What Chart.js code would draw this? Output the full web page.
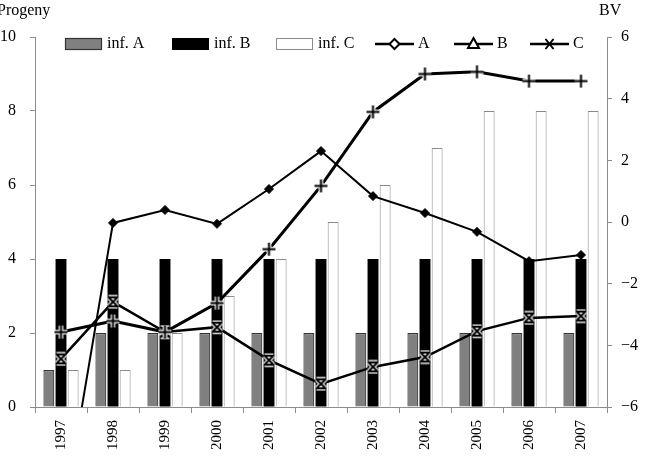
<!DOCTYPE html>
<html>
<head>
<meta charset="utf-8">
<script src="https://cdn.jsdelivr.net/npm/chart.js@4.4.0/dist/chart.umd.min.js"></script>
<style>
  html, body { margin: 0; padding: 0; background: #fff; }
</style>
</head>
<body>
<canvas id="progenyChart" width="646" height="462"></canvas>
<script>
// Data
const years = ['1997', '1998', '1999', '2000', '2001', '2002', '2003', '2004', '2005', '2006', '2007'];

// bars, left axis (Progeny)
const infA = [1, 2, 2, 2, 2, 2, 2, 2, 2, 2, 2];
const infB = [4, 4, 4, 4, 4, 4, 4, 4, 4, 4, 4];
const infC = [1, 1, 2, 3, 4, 5, 6, 7, 8, 8, 8];

// lines, right axis (BV)
const bvA = [-10, -0.03, 0.39, -0.06, 1.07, 2.30, 0.84, 0.29, -0.32, -1.27, -1.07];
const bvB = [-3.57, -3.21, -3.57, -2.63, -0.88, 1.17, 3.57, 4.80, 4.87, 4.57, 4.57];
const bvC = [-4.44, -2.59, -3.57, -3.41, -4.48, -5.25, -4.70, -4.38, -3.54, -3.11, -3.05];

const progenyTicks = [0, 2, 4, 6, 8, 10];
const bvTicks = [-6, -4, -2, 0, 2, 4, 6];

const FONT = '"Liberation Serif", "DejaVu Serif", serif';
const AXIS_CLR = '#8c8c8c';

// marker images with a white halo so they read on top of the black bars
function makeMarker(size, path) {
  const c = document.createElement('canvas');
  c.width = size;
  c.height = size;
  const g = c.getContext('2d');
  g.lineCap = 'butt';
  g.strokeStyle = '#fff';
  g.lineWidth = 4.5;
  path(g, size);
  g.stroke();
  g.strokeStyle = '#000';
  g.lineWidth = 2;
  path(g, size);
  g.stroke();
  return c;
}

const plusMarker = makeMarker(17, (g, s) => {
  g.beginPath();
  g.moveTo(s / 2, 2); g.lineTo(s / 2, s - 2);
  g.moveTo(2, s / 2); g.lineTo(s - 2, s / 2);
});

const xMarker = makeMarker(15, (g, s) => {
  const a = 3, b = s - 3;
  g.beginPath();
  g.moveTo(a, a); g.lineTo(b, b);
  g.moveTo(b, a); g.lineTo(a, b);
  g.moveTo(a, a); g.lineTo(b, a);
  g.moveTo(a, b); g.lineTo(b, b);
});

// legend + axis titles, drawn like the original figure
const overlayPlugin = {
  id: 'overlay',
  afterDraw(chart) {
    const ctx = chart.ctx;
    ctx.save();
    ctx.fillStyle = '#000';
    ctx.font = '16px ' + FONT;
    ctx.textBaseline = 'middle';
    ctx.textAlign = 'left';
    ctx.fillText('Progeny', -3, 11);
    ctx.fillText('BV', 599, 11);

    const xs = [65, 172, 276, 375, 454, 530];
    const cy = 44;
    chart.data.datasets.forEach((ds, i) => {
      const x = xs[i];
      ctx.save();
      if (ds.type === 'bar') {
        ctx.fillStyle = ds.backgroundColor;
        ctx.fillRect(x, cy - 6, 37, 12);
        ctx.strokeStyle = ds.borderColor;
        ctx.lineWidth = ds.borderWidth;
        ctx.strokeRect(x + 0.5, cy - 5.5, 36, 11);
        ctx.restore();
        ctx.fillText(ds.label, x + 42, cy);
      } else {
        const w = 39, mx = x + w / 2;
        ctx.strokeStyle = '#000';
        ctx.lineWidth = 2.5;
        ctx.beginPath();
        ctx.moveTo(x, cy); ctx.lineTo(x + w, cy);
        ctx.stroke();
        ctx.lineWidth = 2;
        ctx.fillStyle = '#fff';
        ctx.beginPath();
        if (ds.legendMark === 'diamond') {
          ctx.moveTo(mx, cy - 5); ctx.lineTo(mx + 5, cy); ctx.lineTo(mx, cy + 5); ctx.lineTo(mx - 5, cy); ctx.closePath();
          ctx.fill(); ctx.stroke();
        } else if (ds.legendMark === 'triangle') {
          ctx.moveTo(mx, cy - 6); ctx.lineTo(mx + 5.5, cy + 4); ctx.lineTo(mx - 5.5, cy + 4); ctx.closePath();
          ctx.fill(); ctx.stroke();
        } else {
          ctx.moveTo(mx - 4, cy - 5); ctx.lineTo(mx + 4, cy + 5);
          ctx.moveTo(mx + 4, cy - 5); ctx.lineTo(mx - 4, cy + 5);
          ctx.stroke();
        }
        ctx.restore();
        ctx.fillText(ds.label, x + w + 4, cy);
      }
    });
    ctx.restore();
  }
};

const barCommon = { type: 'bar', yAxisID: 'y', order: 2, categoryPercentage: 0.7, barPercentage: 0.9 };
const lineCommon = { type: 'line', yAxisID: 'y1', order: 1, tension: 0, borderColor: '#000', backgroundColor: '#000' };

new Chart(document.getElementById('progenyChart'), {
  data: {
    labels: years,
    datasets: [
      { ...barCommon, label: 'inf. A', data: infA, backgroundColor: '#808080', borderColor: '#333', borderWidth: 1.2 },
      { ...barCommon, label: 'inf. B', data: infB, backgroundColor: '#000', borderColor: '#000', borderWidth: 0 },
      { ...barCommon, label: 'inf. C', data: infC, backgroundColor: '#fff', borderColor: '#8a8a8a', borderWidth: 1 },
      { ...lineCommon, label: 'A', data: bvA, borderWidth: 2, pointStyle: 'rectRot', pointRadius: 4.5, pointBorderWidth: 1, legendMark: 'diamond' },
      { ...lineCommon, label: 'B', data: bvB, borderWidth: 3, pointStyle: plusMarker, legendMark: 'triangle' },
      { ...lineCommon, label: 'C', data: bvC, borderWidth: 2.5, pointStyle: xMarker, legendMark: 'x' }
    ]
  },
  options: {
    responsive: false,
    animation: false,
    devicePixelRatio: 1,
    layout: { padding: { top: 37, left: 0, right: 0, bottom: 0 } },
    plugins: {
      legend: { display: false },
      tooltip: { enabled: false }
    },
    scales: {
      x: {
        type: 'category',
        offset: true,
        grid: { offset: true, drawOnChartArea: false, tickLength: 6, color: AXIS_CLR },
        border: { color: AXIS_CLR },
        ticks: { minRotation: 90, maxRotation: 90, padding: 7, color: '#000', font: { family: FONT, size: 15 } },
        afterFit: s => { s.height = 55; }
      },
      y: {
        position: 'left',
        min: 0,
        max: 10,
        afterBuildTicks: s => { s.ticks = progenyTicks.map(v => ({ value: v })); },
        grid: { drawOnChartArea: false, tickLength: 5, color: AXIS_CLR },
        border: { color: AXIS_CLR },
        ticks: { padding: 14, color: '#000', font: { family: FONT, size: 16 } },
        afterFit: s => { s.width = 35; }
      },
      y1: {
        position: 'right',
        min: -6,
        max: 6,
        afterBuildTicks: s => { s.ticks = bvTicks.map(v => ({ value: v })); },
        grid: { drawOnChartArea: false, tickLength: 5, color: AXIS_CLR },
        border: { color: AXIS_CLR },
        ticks: {
          padding: 9,
          color: '#000',
          font: { family: FONT, size: 16 },
          callback: v => (v < 0 ? '\u2212' + Math.abs(v) : String(v))
        },
        afterFit: s => { s.width = 39; }
      }
    }
  },
  plugins: [overlayPlugin]
});
</script>
</body>
</html>
